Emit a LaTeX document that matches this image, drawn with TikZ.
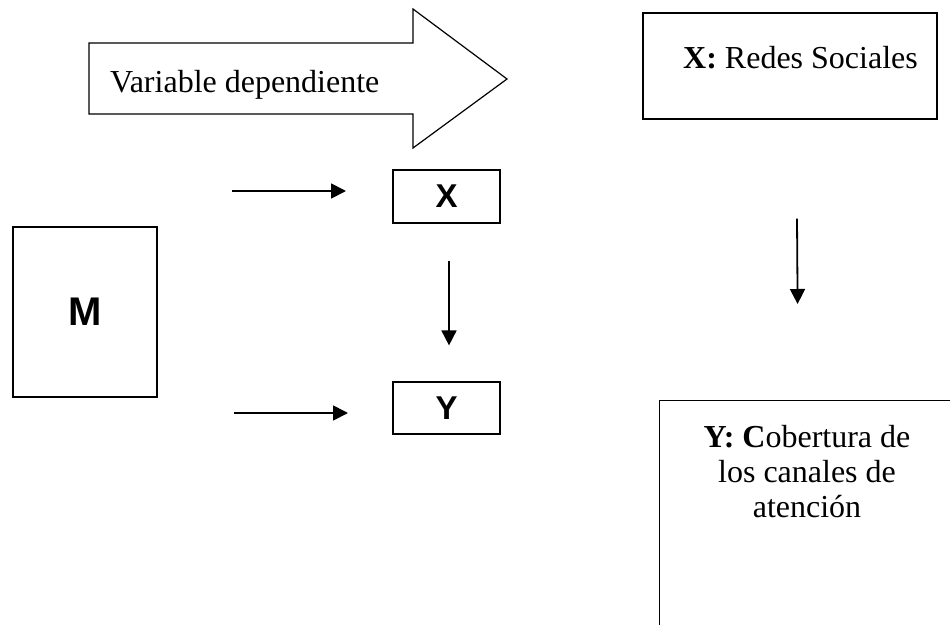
\documentclass[tikz,border=0pt]{standalone}
\usepackage{fontspec}
\setmainfont{Liberation Serif}
\setsansfont{Liberation Sans}
\usetikzlibrary{arrows.meta}

\begin{document}
\begin{tikzpicture}[
      x=1pt, y=-1pt,
      box/.style={
        draw,
        line width=1.2pt,
        inner sep=0pt},
      letter/.style={
        box,
        font=\sffamily\bfseries\fontsize{33}{38}\selectfont},
      txt/.style={
        inner sep=0pt,
        font=\fontsize{32}{35}\selectfont},
      arr/.style={
        line width=1.8pt,
        -{Triangle[length=15pt,width=15pt]}}]
    \useasboundingbox (0,0) rectangle (950,624);
    \clip (0,0) rectangle (950,624);

    % big arrow
    \draw [line width=1.2pt] (89,43) -- (413,43) -- (413,9) -- (507,79)
      -- (413,148) -- (413,114) -- (89,114) -- cycle;
    \node [txt, anchor=base west] (dep) at (110,92) {Variable dependiente};

    % left diagram
    \node [letter, minimum width=144pt, minimum height=170pt,
      font=\sffamily\bfseries\fontsize{40}{46}\selectfont] (M) at (85,312) {M};
    \node [letter, minimum width=107pt, minimum height=53pt] (X) at (446.5,196.5) {X};
    \node [letter, minimum width=107pt, minimum height=52pt] (Y) at (446.5,408) {Y};

    \coordinate (mx) at (232,191);
    \coordinate (ex) at (346,191);
    \coordinate (my) at (234,413);
    \coordinate (ey) at (348,413);

    \draw [arr] (mx) -- (ex);
    \draw [arr] (my) -- (ey);
    \draw [arr] ([xshift=2.5pt,yshift=-37pt]X.south) -- ([xshift=2.5pt,yshift=36pt]Y.north);

    % right diagram
    \node [box, minimum width=294pt, minimum height=106pt] (redes) at (790,66) {};
    \node [txt, anchor=base west] (redestxt) at (683,68) {\textbf{X:} Redes Sociales};

    \node [box, anchor=north west, minimum width=300pt, minimum height=240pt] (cob) at (659,400) {};
    \node [txt, align=center] (cobtxt) at (807,472) {\textbf{Y: C}obertura de\\los canales de\\atención};

    \draw [arr] ([xshift=7pt,yshift=-99pt]redes.south) -- ([xshift=-12pt,yshift=96pt]cob.north);
  \end{tikzpicture}
\end{document}
